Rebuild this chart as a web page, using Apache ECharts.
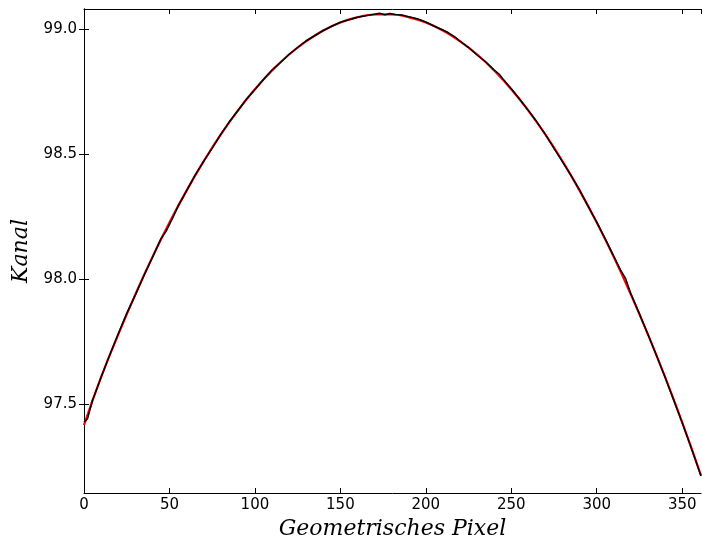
<!DOCTYPE html>
<html>
<head>
<meta charset="utf-8">
<script src="https://cdn.jsdelivr.net/npm/echarts@6/dist/echarts.min.js"></script>
<style>
  html, body { margin: 0; padding: 0; background: #fff; }
  #chart { width: 702px; height: 546px; }
</style>
</head>
<body>
<div id="chart"></div>
<script>
// measured profile (black)
const dataX = [0, 2, 5, 10, 15, 20, 25, 30, 35, 40, 45, 48, 52, 55, 60, 65, 70, 75, 80, 85, 90, 95,
  100, 105, 110, 115, 120, 125, 130, 135, 140, 145, 150, 155, 160, 165, 170, 173, 176, 179, 182,
  186, 190, 195, 200, 205, 210, 213, 217, 220, 225, 230, 235, 240, 243, 245, 250, 255, 260, 265,
  270, 275, 280, 285, 290, 295, 300, 305, 310, 314, 317, 320, 325, 330, 335, 340, 345, 350, 355, 361]
const dataY = [97.428, 97.44, 97.515, 97.607, 97.695, 97.78, 97.862, 97.935, 98.012, 98.085, 98.16,
  98.19, 98.245, 98.29, 98.352, 98.415, 98.47, 98.523, 98.578, 98.628, 98.672, 98.718, 98.757,
  98.797, 98.835, 98.865, 98.898, 98.925, 98.952, 98.972, 98.993, 99.01, 99.026, 99.036, 99.046,
  99.052, 99.058, 99.062, 99.056, 99.061, 99.057, 99.055, 99.048, 99.04, 99.027, 99.01, 98.995,
  98.985, 98.968, 98.95, 98.925, 98.895, 98.868, 98.835, 98.818, 98.8, 98.76, 98.717, 98.673,
  98.627, 98.577, 98.522, 98.468, 98.413, 98.355, 98.29, 98.227, 98.16, 98.09, 98.035, 98.0,
  97.94, 97.86, 97.778, 97.693, 97.607, 97.516, 97.425, 97.33, 97.212]

// fit (red)
const fitX = [0, 10, 20, 30, 40, 50, 60, 70, 80, 90, 100, 110, 120, 130, 140, 150, 160, 170, 180,
  190, 200, 210, 220, 230, 240, 250, 260, 270, 280, 290, 300, 310, 320, 330, 340, 350, 361]
const fitY = [97.415, 97.607, 97.777, 97.937, 98.087, 98.225, 98.353, 98.47, 98.577, 98.673, 98.758,
  98.833, 98.897, 98.95, 98.993, 99.025, 99.046, 99.057, 99.057, 99.046, 99.025, 98.993, 98.95,
  98.897, 98.833, 98.758, 98.673, 98.577, 98.47, 98.353, 98.225, 98.087, 97.937, 97.777, 97.607,
  97.426, 97.214]

const yTicks = [97.5, 98.0, 98.5, 99.0]

const pairs = (xs, ys) => xs.map((x, i) => [x, ys[i]])

const chart = echarts.init(document.getElementById('chart'))

const tickFont = { fontFamily: 'DejaVu Sans', fontSize: 15, color: '#000' }
const nameFont = { fontFamily: 'DejaVu Serif', fontStyle: 'italic', fontSize: 22, color: '#000' }
const line = { show: true, lineStyle: { color: '#000', width: 1 } }
const tick = { show: true, inside: true, length: 5, lineStyle: { color: '#000', width: 1 } }

chart.setOption({
  animation: false,
  backgroundColor: '#fff',
  grid: { left: 84, right: 1, top: 9, bottom: 53 },
  xAxis: [{
    type: 'value',
    min: 0,
    max: 361,
    interval: 50,
    name: 'Geometrisches Pixel',
    nameLocation: 'middle',
    nameGap: 24,
    nameTextStyle: nameFont,
    axisLine: line,
    axisTick: tick,
    axisLabel: Object.assign({ margin: 5 }, tickFont),
    splitLine: { show: false }
  }, {
    type: 'value',
    position: 'top',
    min: 0,
    max: 361,
    interval: 50,
    axisLine: line,
    axisTick: tick,
    axisLabel: { show: false },
    splitLine: { show: false }
  }],
  yAxis: [{
    type: 'value',
    min: 97.144,
    max: 99.079,
    name: 'Kanal',
    nameLocation: 'middle',
    nameGap: 50,
    nameTextStyle: nameFont,
    axisLine: line,
    axisTick: Object.assign({ customValues: yTicks }, tick),
    axisLabel: Object.assign({
      customValues: yTicks,
      margin: 7,
      formatter: v => v.toFixed(1)
    }, tickFont),
    splitLine: { show: false }
  }, {
    type: 'value',
    position: 'right',
    min: 97.144,
    max: 99.079,
    axisLine: line,
    axisTick: Object.assign({ customValues: yTicks }, tick),
    axisLabel: { show: false },
    splitLine: { show: false }
  }],
  series: [{
    name: 'Fit',
    type: 'line',
    data: pairs(fitX, fitY),
    smooth: true,
    showSymbol: false,
    lineStyle: { color: '#ff0000', width: 2.2 },
    z: 2
  }, {
    name: 'Messung',
    type: 'line',
    data: pairs(dataX, dataY),
    showSymbol: false,
    lineStyle: { color: '#000', width: 1.5 },
    z: 3
  }]
})
</script>
</body>
</html>
